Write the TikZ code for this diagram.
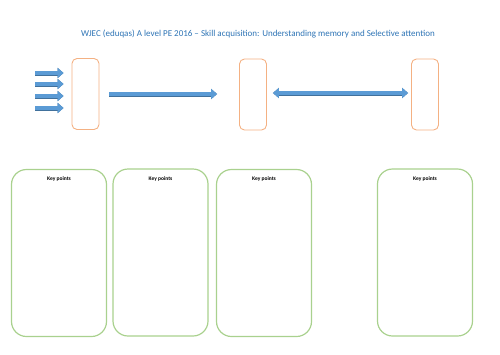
\documentclass[tikz,border=0pt]{standalone}
\usepackage{fontspec}
\setmainfont{Carlito}
\usetikzlibrary{arrows.meta}
\definecolor{titleblue}{RGB}{46,116,181}
\definecolor{arrowblue}{RGB}{91,155,213}
\definecolor{arrowedge}{RGB}{65,113,156}
\definecolor{boxorange}{RGB}{244,177,131}
\definecolor{boxgreen}{RGB}{169,209,142}
\begin{document}
\begin{tikzpicture}[x=1pt, y=-1pt,
	storebox/.style={draw=boxorange, line width=0.9pt, rounded corners=5pt, minimum width=27pt, minimum height=71pt, inner sep=0pt},
	notebox/.style={draw=boxgreen, line width=1.2pt, rounded corners=15pt, minimum width=95pt, minimum height=167pt, inner sep=0pt},
	blockarrow/.style={draw=arrowblue, line width=4pt, preaction={draw=arrowedge, line width=5pt}},
	keylabel/.style={font=\fontsize{5.5}{6}\selectfont\bfseries, anchor=north, inner sep=0pt}]
	\useasboundingbox (0,0) rectangle (500,354);
	
	% titel
	\node[text=titleblue, font=\fontsize{9}{11}\selectfont] (title) at (258,34) {WJEC (eduqas) A level PE 2016 – Skill acquisition: Understanding memory and Selective attention};
	
	% geheugen-vakken
	\node[storebox] (box1) at (85.5,94) {};
	\node[storebox] (box2) at (253,94.5) {};
	\node[storebox] (box3) at (425,94.5) {};
	
	% pijlen
	\foreach \y [count=\i] in {73,84,96,108} {
		\coordinate (in\i) at (35,\y);
		\draw[blockarrow, -{Triangle[width=10pt,length=6pt]}, shorten >=8pt] (in\i) -- (in\i -| box1.west);
	}
	\draw[blockarrow, -{Triangle[width=10pt,length=6pt]}, shorten <=10pt, shorten >=22pt] (box1.east) -- (box2.west |- box1.east);
	\draw[blockarrow, {Triangle[width=10pt,length=6pt]}-{Triangle[width=10pt,length=6pt]}, shorten <=6pt, shorten >=3pt] (box2.east |- 0,93) -- (box3.west |- 0,93);
	
	% key points
	\node[notebox] (note1) at (59,253) {};
	\node[notebox] (note2) at (160.5,252.5) {};
	\node[notebox] (note3) at (264,253) {};
	\node[notebox] (note4) at (425,252.5) {};
	\foreach \n in {1,...,4}
		\node[keylabel] (key\n) at ([yshift=-8pt]note\n.north) {Key points};
\end{tikzpicture}
\end{document}
